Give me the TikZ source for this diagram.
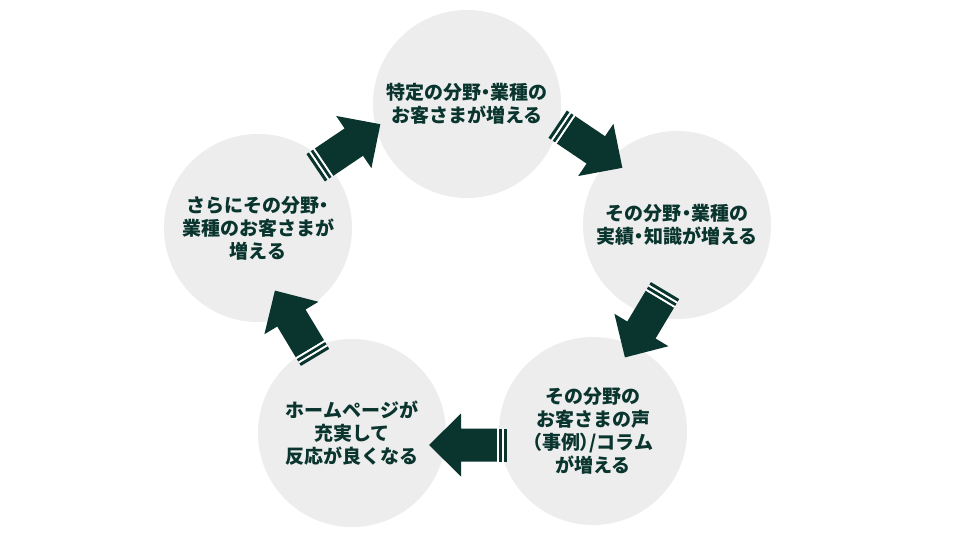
\documentclass[tikz,border=0pt]{standalone}
\usepackage{fontspec}
\setmainfont{Noto Sans CJK JP}
\newfontfamily\jpp{Noto Sans CJK JP}[RawFeature=+palt]
\newcommand\nakaguro{{\jpp\bfseries ・}}
\newcommand\lpar{{\jpp\bfseries （}}
\newcommand\rpar{{\jpp\bfseries ）}}
\definecolor{dk}{RGB}{10,53,46}
\definecolor{cg}{RGB}{237,237,237}
\tikzset{
  circ/.style={circle, fill=cg, minimum size=188pt, inner sep=0pt,
    text=dk, font=\fontsize{19}{23}\selectfont\bfseries, align=center},
  cyclearrow/.pic={
    \fill[dk] (39,0) -- (7,31.5) -- (7,16.5) -- (-29,16.5) -- (-29,-16.5)
      -- (7,-16.5) -- (7,-31.5) -- cycle;
    \fill[white] (-31,-16.5) rectangle (-29,16.5);
    \fill[dk] (-34,-16.5) rectangle (-31,16.5);
    \fill[white] (-36,-16.5) rectangle (-34,16.5);
    \fill[dk] (-39,-16.5) rectangle (-36,16.5);
  }
}
\begin{document}
\begin{tikzpicture}[x=1pt, y=-1pt]
\useasboundingbox (0,0) rectangle (960,540);
\fill[white] (0,0) rectangle (960,540);
\node[circ] (c1) at (467,104) {特定の分野\nakaguro 業種の\\お客さまが増える};
\node[circ] (c2) at (677,225) {その分野\nakaguro 業種の\\実績\nakaguro 知識が増える};
\node[circ] (c3) at (593,431) {その分野の\\お客さまの声\\\lpar 事例\rpar /コラム\\が増える};
\node[circ] (c4) at (352,433) {ホームページが\\充実して\\反応が良くなる};
\node[circ] (c5) at (258,228) {さらにその分野\nakaguro\\業種のお客さまが\\増える};
\pic[rotate=-34] (a1) at (590,146) {cyclearrow};
\pic[rotate=-121] (a2) at (645,324) {cyclearrow};
\pic[rotate=-180] (a3) at (468,445) {cyclearrow};
\pic[rotate=-239] (a4) at (295,324) {cyclearrow};
\pic[rotate=34] (a5) at (348,146) {cyclearrow};
\end{tikzpicture}
\end{document}
